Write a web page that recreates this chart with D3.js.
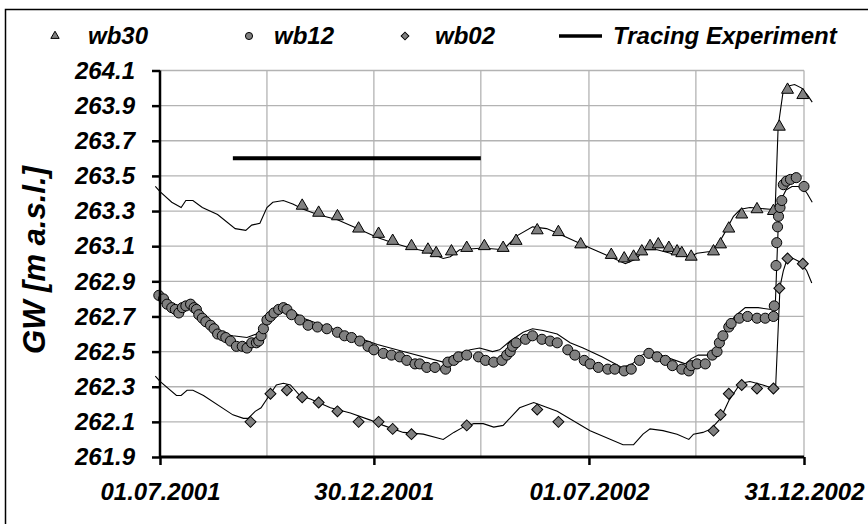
<!DOCTYPE html>
<html>
<head>
<meta charset="utf-8">
<script src="https://cdn.jsdelivr.net/npm/d3@7"></script>
<style>
  body { margin: 0; background: #fff; }
  text { font-family: "Liberation Sans", Arial, sans-serif; font-weight: bold; font-style: italic; }
</style>
</head>
<body>
<script>
// days counted from 01.07.2001
var startDate = "2001-07-01";

// measured groundwater levels (markers)
var wb30Days = [121,135,151,169,186,198,214,228,235,248,261,276,292,303,321,339,358,384,395,403,410,417,424,433,440,444,452,471,477,484,495,508,522,527,534,547];
var wb30Level = [263.33,263.29,263.27,263.20,263.17,263.13,263.10,263.08,263.06,263.07,263.09,263.10,263.09,263.13,263.19,263.18,263.11,263.05,263.03,263.04,263.07,263.10,263.11,263.09,263.07,263.06,263.04,263.07,263.11,263.20,263.28,263.31,263.30,263.78,263.99,263.96];

var wb12Days = [-1,3,6,10,13,16,19,22,26,29,31,33,36,39,43,46,49,53,56,60,65,70,74,78,82,84,86,88,91,94,97,101,105,108,112,119,126,134,142,151,157,163,170,177,182,190,197,204,210,217,221,227,234,243,245,250,254,261,271,277,284,291,295,298,300,303,311,317,325,332,338,347,353,361,366,373,381,387,395,401,408,416,423,430,436,444,450,452,457,464,470,474,476,479,484,486,493,500,508,515,522,522.7,524.2,524.8,525.5,526.3,527.6,529.1,530.4,533.1,536.5,541.4,548];
var wb12Level = [262.82,262.80,262.77,262.75,262.74,262.72,262.75,262.76,262.77,262.75,262.74,262.71,262.69,262.67,262.65,262.63,262.60,262.59,262.58,262.56,262.53,262.53,262.52,262.55,262.55,262.56,262.59,262.63,262.68,262.70,262.72,262.74,262.75,262.74,262.71,262.68,262.65,262.64,262.63,262.61,262.59,262.58,262.56,262.53,262.51,262.49,262.48,262.47,262.45,262.43,262.43,262.41,262.41,262.40,262.44,262.45,262.47,262.48,262.47,262.45,262.44,262.45,262.48,262.50,262.53,262.55,262.57,262.59,262.57,262.56,262.55,262.51,262.48,262.45,262.43,262.41,262.40,262.40,262.39,262.40,262.45,262.49,262.47,262.45,262.42,262.40,262.39,262.42,262.43,262.43,262.48,262.50,262.55,262.59,262.64,262.66,262.69,262.70,262.69,262.69,262.70,262.76,262.99,263.12,263.21,263.27,263.32,263.36,263.45,263.47,263.48,263.49,263.44];

var wb02Days = [77,94,108,121,135,151,169,186,198,214,261,321,339,471,477,484,495,508,522,527,534,547];
var wb02Level = [262.10,262.26,262.28,262.24,262.21,262.16,262.10,262.10,262.06,262.03,262.08,262.17,262.10,262.05,262.14,262.26,262.31,262.29,262.29,262.86,263.03,263.00];

// simulated levels (thin lines)
var sim30Days = [-4,0,10,18,22,28,36,49,64,73,78,85,91,96,105,113,122,134,151,168,185,198,213,227,241,247,255,275,292,304,317,329,343,366,383,396,406,411,423,440,451,457,468,474,480,488,494,502,519,523.5,526,530,534,540,546,551,555];
var sim30Level = [263.44,263.41,263.35,263.32,263.36,263.36,263.32,263.28,263.20,263.19,263.22,263.23,263.32,263.35,263.36,263.34,263.31,263.28,263.25,263.20,263.15,263.12,263.09,263.07,263.03,263.04,263.08,263.09,263.08,263.16,263.21,263.20,263.16,263.09,263.04,263.00,263.03,263.08,263.08,263.05,263.04,263.06,263.07,263.10,263.17,263.27,263.31,263.32,263.31,263.32,263.78,263.97,264.01,264.02,264.00,263.96,263.92];

var sim12Days = [-4,0,6,10,15,20,25,30,37,45,53,62,74,82,87,92,98,106,113,122,134,151,168,185,207,241,247,264,272,283,289,298,309,317,326,338,349,360,376,393,402,410,418,430,447,452,458,466,472,478,483,489,498,509,520,523.5,524.8,526.1,527.6,529.7,532.7,537.8,542.9,547.2,550.7,555];
var sim12Level = [262.84,262.82,262.78,262.75,262.73,262.75,262.78,262.75,262.70,262.64,262.60,262.59,262.58,262.60,262.63,262.69,262.73,262.75,262.73,262.69,262.66,262.62,262.58,262.54,262.50,262.44,262.47,262.51,262.52,262.50,262.51,262.56,262.61,262.63,262.62,262.60,262.55,262.52,262.47,262.41,262.43,262.48,262.50,262.47,262.43,262.46,262.48,262.48,262.51,262.56,262.64,262.70,262.75,262.75,262.74,262.75,262.99,263.22,263.32,263.38,263.42,263.44,263.44,263.43,263.40,263.35];

var sim02Days = [-4,0,14,18,23,28,37,62,71,75,81,86,92,99,105,111,119,128,145,162,179,190,207,224,241,250,258,267,275,284,292,306,318,326,338,366,394,403,411,417,428,440,450,454,462,469,477,484,494,502,513,522,523.8,527.6,530.4,533.3,538.9,544.6,550.3,554.6];
var sim02Level = [262.36,262.33,262.25,262.25,262.28,262.28,262.25,262.14,262.12,262.12,262.16,262.18,262.24,262.31,262.32,262.31,262.25,262.23,262.18,262.15,262.11,262.08,262.04,262.03,262.00,262.04,262.07,262.09,262.09,262.07,262.08,262.18,262.21,262.19,262.16,262.05,261.97,261.97,262.03,262.06,262.05,262.03,262.00,262.03,262.04,262.06,262.12,262.22,262.32,262.33,262.31,262.29,262.29,262.87,262.96,263.02,263.03,263.01,262.96,262.89];

// tracing experiment period
var tracingDates = ["2001-09-01", "2002-03-31"];
var tracingLevel = 263.6;

// axes
var xTickDates = ["2001-07-01", "2001-12-30", "2002-07-01", "2002-12-31"];
var xGridDates = ["2001-09-30", "2001-12-30", "2002-03-31", "2002-07-01", "2002-09-30", "2002-12-31"];
var yTicks = [261.9, 262.1, 262.3, 262.5, 262.7, 262.9, 263.1, 263.3, 263.5, 263.7, 263.9, 264.1];

var width = 868, height = 524;
var parse = d3.utcParse("%Y-%m-%d");
var t0 = parse(startDate);
function dayToDate(d) { return new Date(t0.getTime() + d * 864e5); }
function pairs(days, levels) {
  return days.map(function(d, i) { return { date: dayToDate(d), value: levels[i] }; });
}

var svg = d3.select("body").append("svg")
    .attr("width", width)
    .attr("height", height);

svg.append("rect").attr("width", width).attr("height", height).attr("fill", "#fff");
// outer chart border
svg.append("rect")
    .attr("x", 5.5).attr("y", 9.5)
    .attr("width", 900).attr("height", 600)
    .attr("fill", "none").attr("stroke", "#000").attr("stroke-width", 1.5);

var x = d3.scaleUtc()
    .domain([parse(xTickDates[0]), parse(xTickDates[3])])
    .range([160, 804]);
var y = d3.scaleLinear()
    .domain([261.9, 264.1])
    .range([457, 70.5]);

// gridlines
var grid = svg.append("g").attr("stroke", "#b3b3b3").attr("stroke-width", 1.3);
grid.selectAll(".hg").data(yTicks.slice(1)).enter().append("line")
    .attr("x1", 160).attr("x2", 804)
    .attr("y1", function(d) { return y(d); })
    .attr("y2", function(d) { return y(d); });
grid.selectAll(".vg").data(xGridDates).enter().append("line")
    .attr("x1", function(d) { return x(parse(d)); })
    .attr("x2", function(d) { return x(parse(d)); })
    .attr("y1", 70.5).attr("y2", 457);

// simulated lines
var line = d3.line()
    .x(function(d) { return x(d.date); })
    .y(function(d) { return y(d.value); });

[[sim30Days, sim30Level], [sim12Days, sim12Level], [sim02Days, sim02Level]].forEach(function(s) {
  svg.append("path")
      .datum(pairs(s[0], s[1]))
      .attr("fill", "none")
      .attr("stroke", "#000")
      .attr("stroke-width", 1.1)
      .attr("d", line);
});

// tracing experiment bar
svg.append("line")
    .attr("x1", x(parse(tracingDates[0]))).attr("x2", x(parse(tracingDates[1])))
    .attr("y1", y(tracingLevel)).attr("y2", y(tracingLevel))
    .attr("stroke", "#000").attr("stroke-width", 4);

// markers
function drawMarkers(data, shape, size, rot) {
  svg.append("g").selectAll("path")
      .data(data)
    .enter().append("path")
      .attr("d", d3.symbol().type(shape).size(size))
      .attr("transform", function(d) {
        return "translate(" + x(d.date) + "," + y(d.value) + ")" + (rot ? " rotate(45)" : "");
      })
      .attr("fill", "#808080")
      .attr("stroke", "#000")
      .attr("stroke-width", 1);
}
drawMarkers(pairs(wb30Days, wb30Level), d3.symbolTriangle, 62, false);
drawMarkers(pairs(wb12Days, wb12Level), d3.symbolCircle, 80, false);
drawMarkers(pairs(wb02Days, wb02Level), d3.symbolSquare, 60, true);

// axes
var yAxis = svg.append("g")
    .attr("transform", "translate(160,0)")
    .call(d3.axisLeft(y).tickValues(yTicks).tickFormat(d3.format(".1f")).tickSize(8).tickPadding(17));
var xAxis = svg.append("g")
    .attr("transform", "translate(0,457)")
    .call(d3.axisBottom(x).tickValues(xTickDates.map(parse)).tickFormat(d3.utcFormat("%d.%m.%Y")).tickSize(8).tickPadding(18));
[yAxis, xAxis].forEach(function(a) {
  a.select(".domain").attr("stroke-width", 2.5);
  a.selectAll(".tick line").attr("stroke-width", 2.5);
  a.selectAll("text").attr("font-size", 24).attr("fill", "#000");
  a.attr("font-family", null);
});
yAxis.select(".domain").attr("d", "M0,457V70.5");
xAxis.select(".domain").attr("d", "M160,0H804").attr("stroke-width", 3);

svg.append("text")
    .attr("transform", "translate(45,260) rotate(-90)")
    .attr("text-anchor", "middle")
    .attr("font-size", 31)
    .text("GW [m a.s.l.]");

// legend
var legend = svg.append("g").attr("font-size", 24);
var legendItems = [
  { name: "wb30", shape: d3.symbolTriangle, size: 30, rot: false, sx: 55, tx: 88 },
  { name: "wb12", shape: d3.symbolCircle, size: 40, rot: false, sx: 249, tx: 274 },
  { name: "wb02", shape: d3.symbolSquare, size: 30, rot: true, sx: 405, tx: 435 }
];
legendItems.forEach(function(it) {
  legend.append("path")
      .attr("d", d3.symbol().type(it.shape).size(it.size))
      .attr("transform", "translate(" + it.sx + ",36)" + (it.rot ? " rotate(45)" : ""))
      .attr("fill", "#808080").attr("stroke", "#000").attr("stroke-width", 1);
  legend.append("text").attr("x", it.tx).attr("y", 44).text(it.name);
});
legend.append("line").attr("x1", 559).attr("x2", 602).attr("y1", 36).attr("y2", 36)
    .attr("stroke", "#000").attr("stroke-width", 3.5);
legend.append("text").attr("x", 613).attr("y", 44).text("Tracing Experiment");
</script>
</body>
</html>
